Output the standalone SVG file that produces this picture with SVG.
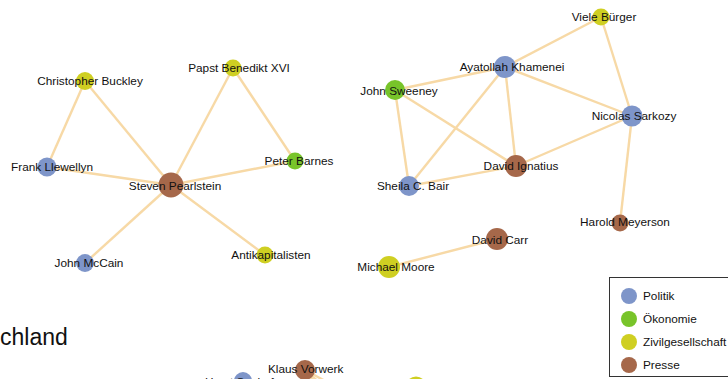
<svg xmlns="http://www.w3.org/2000/svg" width="728" height="379" viewBox="0 0 728 379">
<style>
.e{stroke:#f7d9a6;stroke-width:2.4;fill:none}
text{font-family:"Liberation Sans",Arial,sans-serif;font-size:11.8px;fill:#111}
.lb{text-anchor:middle;dominant-baseline:central}
.p{fill:#7e95c9}.o{fill:#78c42a}.z{fill:#cfcf22}.r{fill:#a6684a}
</style>
<rect width="728" height="379" fill="#fff"/>
<g id="edges">
<line class="e" x1="85" y1="81" x2="47" y2="167"/>
<line class="e" x1="85" y1="81" x2="171" y2="185"/>
<line class="e" x1="47" y1="167" x2="171" y2="185"/>
<line class="e" x1="233" y1="68" x2="171" y2="185"/>
<line class="e" x1="233" y1="68" x2="295" y2="161"/>
<line class="e" x1="295" y1="161" x2="171" y2="185"/>
<line class="e" x1="171" y1="185" x2="85" y2="263"/>
<line class="e" x1="171" y1="185" x2="265" y2="255"/>
<line class="e" x1="601" y1="17" x2="505" y2="67"/>
<line class="e" x1="601" y1="17" x2="632" y2="116"/>
<line class="e" x1="505" y1="67" x2="395" y2="90"/>
<line class="e" x1="505" y1="67" x2="632" y2="116"/>
<line class="e" x1="505" y1="67" x2="409" y2="186"/>
<line class="e" x1="505" y1="67" x2="516" y2="166"/>
<line class="e" x1="395" y1="90" x2="409" y2="186"/>
<line class="e" x1="395" y1="90" x2="516" y2="166"/>
<line class="e" x1="409" y1="186" x2="516" y2="166"/>
<line class="e" x1="516" y1="166" x2="632" y2="116"/>
<line class="e" x1="632" y1="116" x2="620" y2="223"/>
<line class="e" x1="497" y1="239" x2="389" y2="267"/>
<line class="e" x1="305" y1="370" x2="330" y2="392"/>
<line class="e" x1="305" y1="370" x2="338" y2="388"/>
<line class="e" x1="305" y1="370" x2="325" y2="395"/>
</g>
<g id="n-buckley"><circle class="z" cx="85" cy="81" r="9"/><text class="lb" x="90" y="81">Christopher Buckley</text></g>
<g id="n-papst"><circle class="z" cx="233" cy="68" r="8.5"/><text class="lb" x="239" y="68">Papst Benedikt XVI</text></g>
<g id="n-llewellyn"><circle class="p" cx="47" cy="167" r="9.5"/><text class="lb" x="52" y="167">Frank Llewellyn</text></g>
<g id="n-pearlstein"><circle class="r" cx="171" cy="185" r="12.5"/><text class="lb" x="175" y="186">Steven Pearlstein</text></g>
<g id="n-barnes"><circle class="o" cx="295" cy="161" r="8.5"/><text class="lb" x="299" y="161">Peter Barnes</text></g>
<g id="n-mccain"><circle class="p" cx="85" cy="263" r="9"/><text class="lb" x="89" y="263">John McCain</text></g>
<g id="n-antikap"><circle class="z" cx="265" cy="255" r="8.5"/><text class="lb" x="271" y="255">Antikapitalisten</text></g>
<g id="n-viele"><circle class="z" cx="601" cy="17" r="8.5"/><text class="lb" x="604" y="17">Viele Bürger</text></g>
<g id="n-khamenei"><circle class="p" cx="505" cy="67" r="11"/><text class="lb" x="512" y="67">Ayatollah Khamenei</text></g>
<g id="n-sweeney"><circle class="o" cx="395" cy="90" r="10"/><text class="lb" x="399" y="91">John Sweeney</text></g>
<g id="n-sarkozy"><circle class="p" cx="632" cy="116" r="10.5"/><text class="lb" x="634" y="116">Nicolas Sarkozy</text></g>
<g id="n-ignatius"><circle class="r" cx="516" cy="166" r="11"/><text class="lb" x="521" y="166">David Ignatius</text></g>
<g id="n-bair"><circle class="p" cx="409" cy="186" r="10"/><text class="lb" x="413" y="186">Sheila C. Bair</text></g>
<g id="n-meyerson"><circle class="r" cx="620" cy="223" r="8.5"/><text class="lb" x="625" y="222">Harold Meyerson</text></g>
<g id="n-carr"><circle class="r" cx="497" cy="239" r="11"/><text class="lb" x="500" y="240">David Carr</text></g>
<g id="n-moore"><circle class="z" cx="389" cy="267" r="11"/><text class="lb" x="396" y="267">Michael Moore</text></g>
<g id="n-seehofer"><circle class="p" cx="243" cy="381" r="9"/><text x="205" y="386">Horst Seehofer</text></g>
<g id="n-vorwerk"><circle class="r" cx="305" cy="370" r="10"/><text x="268" y="372.5">Klaus Vorwerk</text></g>
<g id="n-yellow"><circle class="z" cx="416" cy="387" r="10.5"/></g>
<text x="0" y="345" style="font-size:23px">chland</text>
<g id="legend">
<rect x="609.5" y="277.5" width="130" height="99" fill="#fff" stroke="#333" stroke-width="1"/>
<circle class="p" cx="629" cy="296" r="8"/><text x="643" y="300">Politik</text>
<circle class="o" cx="629" cy="319" r="8"/><text x="643" y="323">Ökonomie</text>
<circle class="z" cx="629" cy="342" r="8"/><text x="643" y="346">Zivilgesellschaft</text>
<circle class="r" cx="629" cy="365" r="8"/><text x="643" y="369">Presse</text>
</g>
</svg>
